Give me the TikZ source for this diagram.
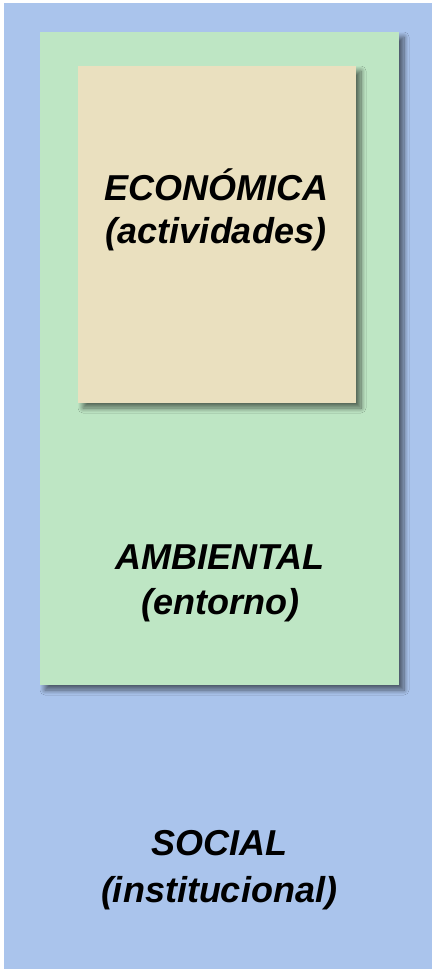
\documentclass[tikz,border=0pt]{standalone}
\usepackage{fontspec}
\setmainfont{Liberation Sans}
\usetikzlibrary{shadows.blur}
\definecolor{socialblue}{RGB}{170,196,236}
\definecolor{ambgreen}{RGB}{190,230,196}
\definecolor{ecotan}{RGB}{234,224,191}
\tikzset{
  panel/.style={draw=none, rectangle, inner sep=0pt, outer sep=0pt, anchor=north west},
  shadowed/.style={blur shadow={shadow xshift=5pt, shadow yshift=-5pt, shadow blur radius=5pt, shadow blur steps=10, shadow opacity=55}},
  label/.style={align=center, anchor=base, inner sep=0pt, text=black, font=\bfseries\itshape}
}
\begin{document}
\begin{tikzpicture}[x=1pt,y=-1pt]
\useasboundingbox (0,0) rectangle (432,969);
\fill[white] (0,0) rectangle (432,969);
\node[panel, fill=socialblue, minimum width=428pt, minimum height=966pt] (social) at (4,3) {};
\node[panel, fill=ambgreen, shadowed, minimum width=359pt, minimum height=653pt] (ambiental) at (40,32) {};
\node[panel, fill=ecotan, shadowed, minimum width=278pt, minimum height=337pt] (economica) at (78,66) {};
\node[label, font=\fontsize{36}{43}\selectfont\bfseries\itshape] (ecotext) at (216,243) {ECONÓMICA\\(actividades)};
\node[label, font=\fontsize{36}{45}\selectfont\bfseries\itshape] (ambtext) at (220,614) {AMBIENTAL\\(entorno)};
\node[label, font=\fontsize{36}{47}\selectfont\bfseries\itshape] (soctext) at (219,902) {SOCIAL\\(institucional)};
\end{tikzpicture}
\end{document}
